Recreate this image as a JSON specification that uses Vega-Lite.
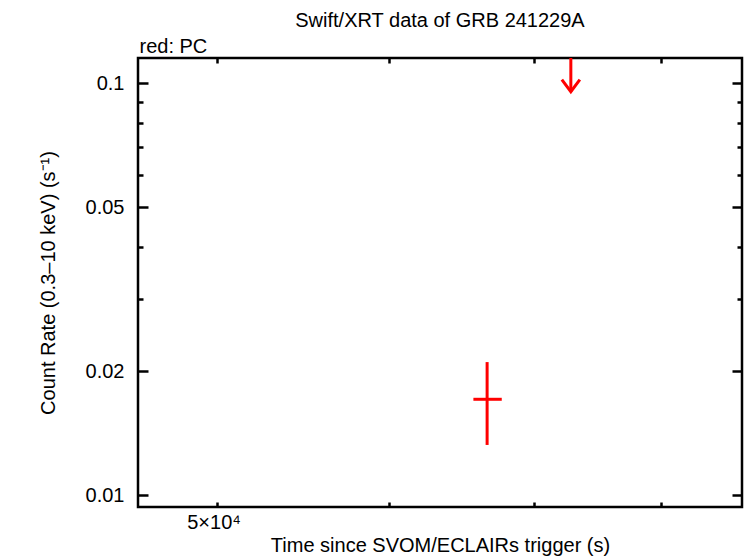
{
  "$schema": "https://vega.github.io/schema/vega-lite/v6.json",
  "width": 604,
  "height": 449,
  "autosize": {"type": "none"},
  "padding": {"left": 138, "top": 58, "right": 4, "bottom": 51},
  "background": "white",
  "title": {
    "text": "Swift/XRT data of GRB 241229A",
    "anchor": "middle",
    "frame": "group",
    "font": "Liberation Sans",
    "fontSize": 20,
    "fontWeight": "normal",
    "color": "black",
    "baseline": "alphabetic",
    "offset": -11
  },
  "config": {
    "view": {"stroke": "black", "strokeWidth": 2.5},
    "axis": {
      "domain": false,
      "grid": false,
      "labelFont": "Liberation Sans",
      "labelFontSize": 20,
      "labelColor": "black",
      "titleFont": "Liberation Sans",
      "titleFontSize": 20,
      "titleFontWeight": "normal",
      "titleColor": "black",
      "tickColor": "black",
      "tickWidth": 2.5
    }
  },
  "datasets": {
    "detections": [
      {"time": 66580, "time_start": 65620, "time_stop": 67620, "rate": 0.01708, "rate_low": 0.01323, "rate_high": 0.02103}
    ],
    "upper_limits": [
      {"time": 72750, "bar_top": 0.125, "arrow_tip": 0.0954}
    ]
  },
  "layer": [
    {
      "data": {"name": "detections"},
      "mark": {"type": "rule", "color": "#ff0000", "strokeWidth": 3, "clip": true},
      "encoding": {
        "x": {
          "field": "time", "type": "quantitative",
          "scale": {"type": "log", "domain": [46010, 87200], "nice": false, "zero": false},
          "axis": {
            "orient": "bottom", "values": [50000], "labelExpr": "'5×10⁴'",
            "tickSize": -5, "labelPadding": 26, "labelBaseline": "alphabetic", "labelOffset": -3,
            "title": "Time since SVOM/ECLAIRs trigger (s)",
            "titleY": 44, "titleBaseline": "alphabetic"
          }
        },
        "y": {
          "field": "rate_low", "type": "quantitative",
          "scale": {"type": "log", "domain": [0.009351, 0.1152], "nice": false, "zero": false},
          "axis": {
            "orient": "left", "values": [0.01, 0.02, 0.05, 0.1], "format": "~g",
            "tickSize": -10, "labelPadding": 24,
            "title": "Count Rate (0.3–10 keV) (s⁻¹)",
            "titleX": -84, "titleBaseline": "alphabetic"
          }
        },
        "y2": {"field": "rate_high"}
      }
    },
    {
      "data": {"name": "detections"},
      "mark": {"type": "rule", "color": "#ff0000", "strokeWidth": 3, "clip": true},
      "encoding": {
        "x": {
          "field": "time_start", "type": "quantitative",
          "scale": {"type": "log", "domain": [46010, 87200], "nice": false, "zero": false},
          "axis": {"orient": "bottom", "values": [60000, 70000, 80000], "labels": false, "tickSize": -5, "title": null}
        },
        "x2": {"field": "time_stop"},
        "y": {
          "field": "rate", "type": "quantitative",
          "scale": {"type": "log", "domain": [0.009351, 0.1152], "nice": false, "zero": false},
          "axis": {"orient": "left", "values": [0.03, 0.04, 0.06, 0.07, 0.08, 0.09], "labels": false, "tickSize": -5, "title": null}
        }
      }
    },
    {
      "data": {"name": "upper_limits"},
      "mark": {"type": "rule", "color": "#ff0000", "strokeWidth": 3, "clip": true},
      "encoding": {
        "x": {
          "field": "time", "type": "quantitative",
          "scale": {"type": "log", "domain": [46010, 87200], "nice": false, "zero": false},
          "axis": {
            "orient": "top", "values": [50000, 60000, 70000, 80000], "labels": false, "tickSize": -5,
            "title": "red: PC", "titleX": 1, "titleY": -6, "titleAlign": "left",
            "titleBaseline": "alphabetic", "titleAngle": 0
          }
        },
        "y": {
          "field": "bar_top", "type": "quantitative",
          "scale": {"type": "log", "domain": [0.009351, 0.1152], "nice": false, "zero": false},
          "axis": {"orient": "right", "values": [0.01, 0.02, 0.05, 0.1], "labels": false, "tickSize": -10, "title": null}
        },
        "y2": {"field": "arrow_tip"}
      }
    },
    {
      "data": {"name": "upper_limits"},
      "mark": {
        "type": "point", "shape": "M-1,-1.35L0,0L1,-1.35", "filled": false,
        "color": "#ff0000", "strokeWidth": 3, "size": 324, "opacity": 1, "clip": true
      },
      "encoding": {
        "x": {
          "field": "time", "type": "quantitative",
          "scale": {"type": "log", "domain": [46010, 87200], "nice": false, "zero": false},
          "axis": null
        },
        "y": {
          "field": "arrow_tip", "type": "quantitative",
          "scale": {"type": "log", "domain": [0.009351, 0.1152], "nice": false, "zero": false},
          "axis": {"orient": "right", "values": [0.03, 0.04, 0.06, 0.07, 0.08, 0.09], "labels": false, "tickSize": -5, "title": null}
        }
      }
    }
  ],
  "resolve": {"axis": {"x": "independent", "y": "independent"}}
}
